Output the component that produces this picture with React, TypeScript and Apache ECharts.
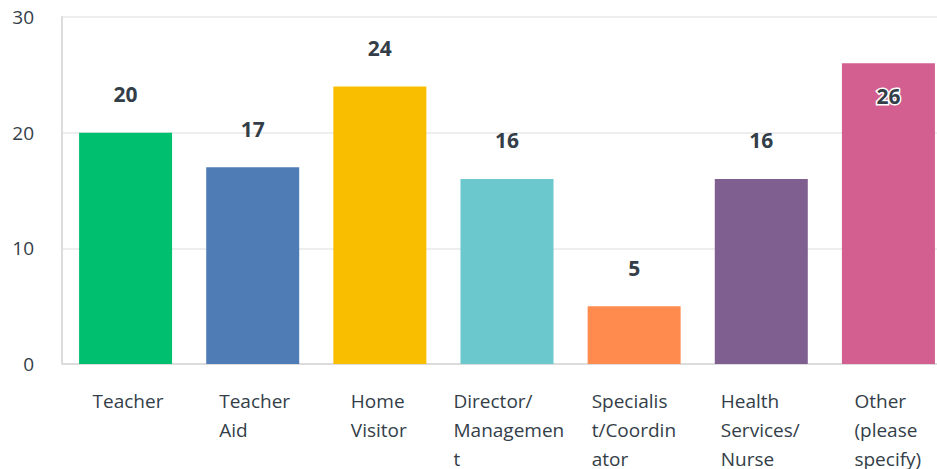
import React, { useEffect, useRef } from "react";
import * as echarts from "echarts";

const categories = [
  "Teacher",
  "Teacher\nAid",
  "Home\nVisitor",
  "Director/\nManagemen\nt",
  "Specialis\nt/Coordin\nator",
  "Health\nServices/\nNurse",
  "Other\n(please\nspecify)",
];
const values = [20, 17, 24, 16, 5, 16, 26];
const colors = ["#00bf6f", "#507cb6", "#f9be00", "#6bc8cd", "#ff8b4f", "#7f5f90", "#d25f90"];
const labelWidths = [74, 75, 66, 115, 93, 89, 76];
const yTicks = { min: 0, max: 30, interval: 10 };

const TEXT = "#333e48";
const FONT = "Open Sans";

export default function App() {
  const ref = useRef<HTMLDivElement>(null);
  useEffect(() => {
    document.body.style.margin = "0";
    document.body.style.overflow = "hidden";
    const chart = echarts.init(ref.current!, null, { renderer: "svg" });
    const rich: Record<string, any> = {};
    labelWidths.forEach((w, i) => {
      rich["c" + i] = {
        width: w,
        align: "left",
        fontFamily: FONT,
        fontSize: 19,
        lineHeight: 29,
        color: TEXT,
        padding: [0, 0, 0, 8],
      };
    });
    chart.setOption({
      animation: false,
      grid: { left: 62, top: 17, right: 0, height: 347 },
      xAxis: {
        type: "category",
        data: categories,
        axisLine: { show: true, lineStyle: { color: "#dcdcdc", width: 2 } },
        axisTick: { show: false },
        axisLabel: {
          interval: 0,
          margin: 22,
          formatter: (v: string) => {
            const i = categories.indexOf(v);
            return v
              .split("\n")
              .map((l) => `{c${i}|${l}}`)
              .join("\n");
          },
          rich,
        },
      },
      yAxis: {
        type: "value",
        min: yTicks.min,
        max: yTicks.max,
        interval: yTicks.interval,
        axisLine: { show: true, lineStyle: { color: "#dcdcdc", width: 2 } },
        axisTick: { show: false },
        splitLine: { lineStyle: { color: "#eeeeee", width: 2 } },
        axisLabel: {
          margin: 28,
          color: TEXT,
          fontFamily: FONT,
          fontSize: 19,
        },
      },
      series: [
        {
          type: "bar",
          barWidth: 93,
          data: values.map((v, i) => {
            const item: any = { value: v, itemStyle: { color: colors[i] } };
            if (v > 25) {
              item.label = {
                position: "insideTop",
                distance: 22,
                textBorderColor: "#ffffff",
                textBorderWidth: 3,
              };
            }
            return item;
          }),
          label: {
            show: true,
            position: "top",
            distance: 28,
            color: TEXT,
            fontFamily: FONT,
            fontWeight: "bold",
            fontSize: 21,
          },
        },
      ],
    });
    return () => chart.dispose();
  }, []);
  return <div ref={ref} style={{ width: 952, height: 469 }} />;
}
